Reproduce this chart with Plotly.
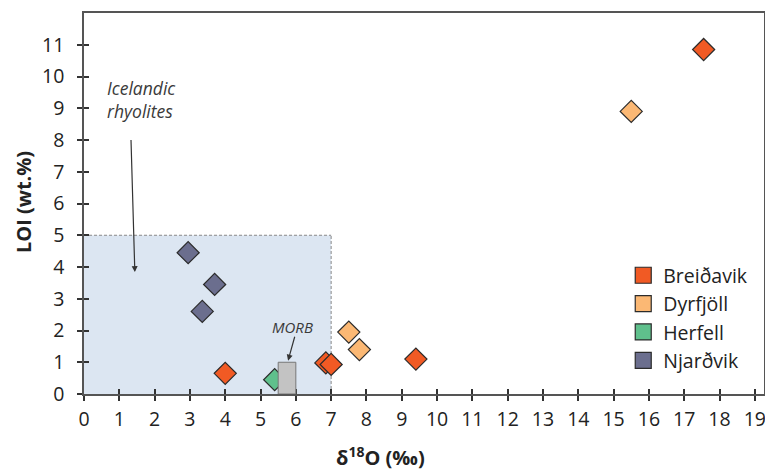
import plotly.graph_objects as go

# ---- data ----
breidavik_x = [4.0, 6.85, 7.0, 9.4, 17.55]
breidavik_y = [0.65, 0.98, 0.93, 1.1, 10.85]
dyrfjoll_x = [7.5, 7.8, 15.5]
dyrfjoll_y = [1.95, 1.4, 8.9]
herfell_x = [5.4]
herfell_y = [0.45]
njardvik_x = [2.95, 3.7, 3.35]
njardvik_y = [4.45, 3.45, 2.6]

rhyolite_box = {"x0": 0, "x1": 7, "y0": 0, "y1": 5}
morb_box = {"x0": 5.5, "x1": 6.0, "y0": 0, "y1": 1}

x_ticks = list(range(0, 20))
y_ticks = list(range(0, 12))

series = [
    ("Breiðavik", breidavik_x, breidavik_y, "#f15a24"),
    ("Dyrfjöll", dyrfjoll_x, dyrfjoll_y, "#fbb874"),
    ("Herfell", herfell_x, herfell_y, "#5fc08c"),
    ("Njarðvik", njardvik_x, njardvik_y, "#6b6e8e"),
]

FONT = "Open Sans"
fig = go.Figure()

for name, xs, ys, col in series:
    fig.add_trace(go.Scatter(
        x=xs, y=ys, mode="markers", name=name, showlegend=False,
        marker=dict(symbol="diamond", size=17, color=col,
                    line=dict(color="#2b2b2b", width=1.2)),
    ))
for name, xs, ys, col in series:
    fig.add_trace(go.Scatter(
        x=[None], y=[None], mode="markers", name=name, showlegend=True,
        legendgroup=name,
        marker=dict(symbol="square", size=16, color=col,
                    line=dict(color="#2b2b2b", width=1.2)),
    ))

# invisible trace for overlay axes (inside ticks)
fig.add_trace(go.Scatter(x=[0], y=[0], xaxis="x2", yaxis="y2", mode="markers",
                         marker=dict(opacity=0), showlegend=False, hoverinfo="skip"))

fig.add_shape(type="rect", xref="x", yref="y", layer="below",
              x0=rhyolite_box["x0"], x1=rhyolite_box["x1"],
              y0=rhyolite_box["y0"], y1=rhyolite_box["y1"],
              fillcolor="#dce6f2", line=dict(width=0))
fig.add_shape(type="line", xref="x", yref="y", layer="below",
              x0=rhyolite_box["x0"], x1=rhyolite_box["x1"],
              y0=rhyolite_box["y1"], y1=rhyolite_box["y1"],
              line=dict(color="#888", width=1, dash="3px,2px"))
fig.add_shape(type="line", xref="x", yref="y", layer="below",
              x0=rhyolite_box["x1"], x1=rhyolite_box["x1"],
              y0=rhyolite_box["y0"], y1=rhyolite_box["y1"],
              line=dict(color="#888", width=1, dash="3px,2px"))
fig.add_shape(type="rect", xref="x", yref="y",
              x0=morb_box["x0"], x1=morb_box["x1"],
              y0=morb_box["y0"], y1=morb_box["y1"],
              fillcolor="#c3c3c3", line=dict(color="#777", width=1))

fig.add_annotation(x=0.6, y=9.28, xref="x", yref="y", showarrow=False,
                   text="<i>Icelandic<br>rhyolites</i>", align="left", xanchor="left",
                   font=dict(family=FONT, size=17.5, color="#3a3a3a"))
fig.add_annotation(x=1.44, y=3.84, ax=1.33, ay=8.05, xref="x", yref="y",
                   axref="x", ayref="y", showarrow=True, arrowhead=2,
                   arrowsize=1, arrowwidth=1.2, arrowcolor="#333", text="")
fig.add_annotation(x=5.9, y=2.1, xref="x", yref="y", showarrow=False,
                   text="<i>MORB</i>", font=dict(family=FONT, size=15, color="#3a3a3a"))
fig.add_annotation(x=5.78, y=1.05, ax=5.98, ay=1.85, xref="x", yref="y",
                   axref="x", ayref="y", showarrow=True, arrowhead=2,
                   arrowsize=1, arrowwidth=1.2, arrowcolor="#333", text="")

# axis titles
fig.add_annotation(x=(380 - 84) / 680, y=-(456 - 394) / 381, xref="paper", yref="paper",
                   xanchor="center", yanchor="middle",
                   showarrow=False, text="<b>δ<sup>18</sup>O (‰)</b>",
                   font=dict(family=FONT, size=20, color="#222"))
fig.add_annotation(x=-(84 - 23) / 680, y=(394 - 202) / 381, xref="paper", yref="paper",
                   xanchor="center", yanchor="middle",
                   showarrow=False, text="<b>LOI (wt.%)</b>", textangle=-90,
                   font=dict(family=FONT, size=20, color="#222"))

axis_common = dict(showgrid=False, zeroline=False, showline=True,
                   linecolor="#555", linewidth=1.5, mirror=True, automargin=False,
                   ticks="outside", ticklen=5, tickwidth=1.5, tickcolor="#333",
                   ticklabeloverflow="allow",
                   tickfont=dict(family=FONT, size=19.5, color="#222"))

fig.update_layout(
    width=765, height=472,
    margin=dict(l=84, r=1, t=13, b=78, autoexpand=False),
    paper_bgcolor="white", plot_bgcolor="white",
    xaxis=dict(range=[0, 19.26], tickvals=x_ticks, ticklabelstandoff=2, **axis_common),
    yaxis=dict(range=[0, 12], tickvals=y_ticks, ticklabelstandoff=9, **axis_common),
    xaxis2=dict(range=[0, 19.26], tickvals=x_ticks, overlaying="x", showgrid=False,
                zeroline=False, showticklabels=False, ticks="inside", ticklen=5,
                tickwidth=1.5, tickcolor="#333"),
    yaxis2=dict(range=[0, 12], tickvals=y_ticks, overlaying="y", showgrid=False,
                zeroline=False, showticklabels=False, ticks="inside", ticklen=5,
                tickwidth=1.5, tickcolor="#333"),
    legend=dict(x=0.793, y=0.362, xanchor="left", yanchor="top",
                bgcolor="rgba(0,0,0,0)", tracegroupgap=0,
                font=dict(family=FONT, size=19.5, color="#222")),
)

fig.write_html("out.html", config={"displayModeBar": False},
               post_script="document.body.style.margin='0';document.body.style.padding='0';")
